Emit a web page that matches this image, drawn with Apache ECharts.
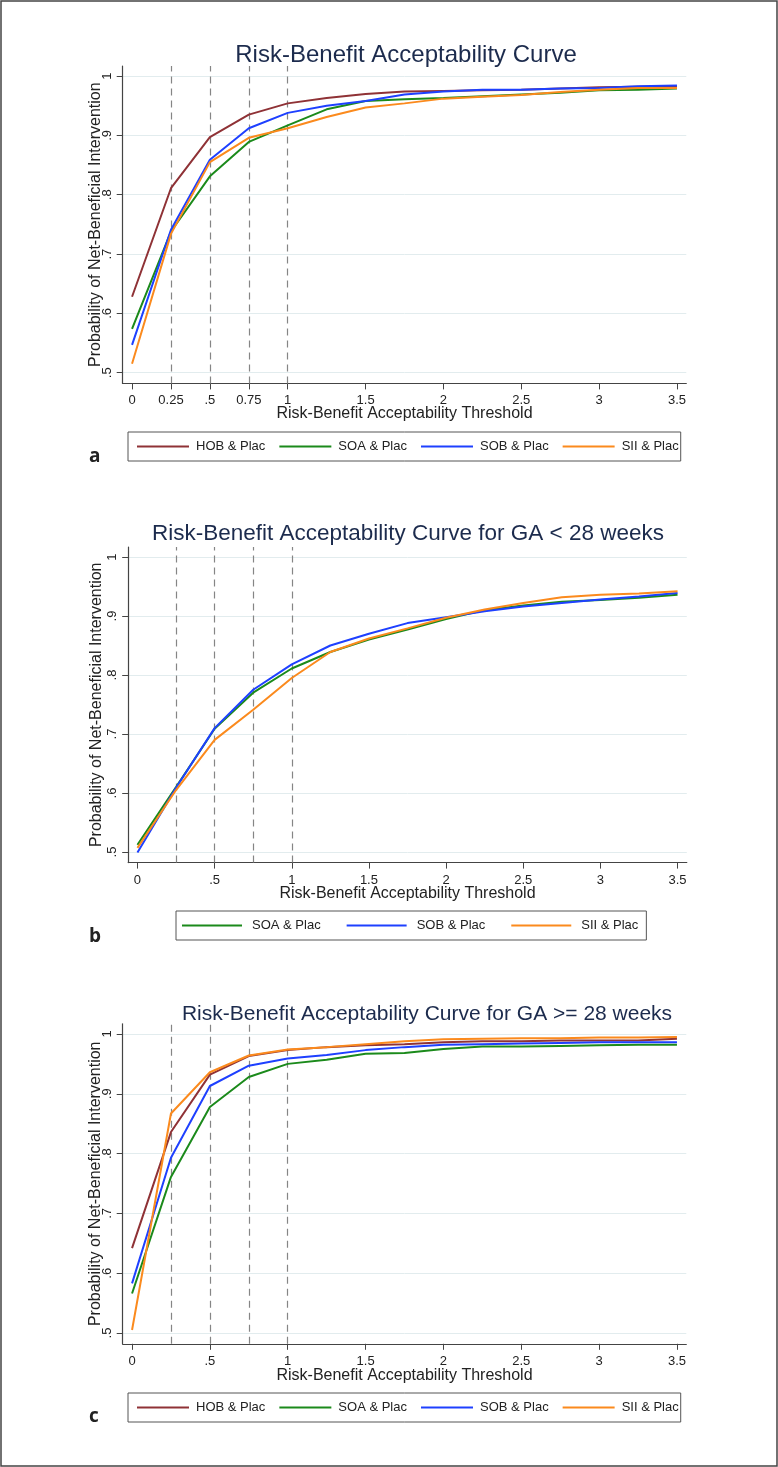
<!DOCTYPE html>
<html>
<head>
<meta charset="utf-8">
<script src="https://cdn.jsdelivr.net/npm/echarts@6/dist/echarts.min.js"></script>
<style>
html,body{margin:0;padding:0;background:#fff;}
#chart{width:778px;height:1467px;}
</style>
</head>
<body>
<div id="chart"></div>
<script>
// risk-benefit acceptability thresholds (x)
var thresholds = [0, 0.25, 0.5, 0.75, 1, 1.25, 1.5, 1.75, 2, 2.25, 2.5, 2.75, 3, 3.25, 3.5];

// panel a: all infants
var hobA = [0.628, 0.811, 0.897, 0.935, 0.954, 0.963, 0.970, 0.974, 0.975, 0.976, 0.977, 0.979, 0.981, 0.982, 0.983];
var soaA = [0.574, 0.738, 0.831, 0.889, 0.917, 0.944, 0.958, 0.961, 0.963, 0.966, 0.969, 0.972, 0.976, 0.977, 0.979];
var sobA = [0.547, 0.741, 0.859, 0.912, 0.938, 0.950, 0.958, 0.969, 0.974, 0.977, 0.977, 0.979, 0.980, 0.983, 0.984];
var siiA = [0.515, 0.734, 0.855, 0.896, 0.912, 0.931, 0.947, 0.954, 0.962, 0.965, 0.968, 0.973, 0.977, 0.980, 0.980];

// panel b: GA < 28 weeks
var soaB = [0.512, 0.610, 0.709, 0.770, 0.811, 0.839, 0.860, 0.877, 0.895, 0.910, 0.918, 0.924, 0.927, 0.931, 0.936];
var sobB = [0.499, 0.609, 0.710, 0.775, 0.818, 0.850, 0.870, 0.888, 0.898, 0.908, 0.916, 0.922, 0.928, 0.933, 0.939];
var siiB = [0.507, 0.605, 0.690, 0.741, 0.795, 0.839, 0.862, 0.879, 0.897, 0.911, 0.922, 0.932, 0.936, 0.938, 0.942];

// panel c: GA >= 28 weeks
var hobC = [0.642, 0.836, 0.932, 0.963, 0.973, 0.978, 0.981, 0.983, 0.986, 0.988, 0.988, 0.989, 0.989, 0.989, 0.992];
var soaC = [0.566, 0.761, 0.878, 0.928, 0.950, 0.957, 0.967, 0.968, 0.975, 0.979, 0.979, 0.980, 0.981, 0.982, 0.982];
var sobC = [0.583, 0.793, 0.913, 0.947, 0.959, 0.965, 0.973, 0.978, 0.982, 0.983, 0.984, 0.985, 0.986, 0.986, 0.986];
var siiC = [0.505, 0.867, 0.936, 0.964, 0.974, 0.978, 0.983, 0.988, 0.991, 0.992, 0.993, 0.993, 0.994, 0.994, 0.995];

// ticks
var xTicksA = [0, 0.25, 0.5, 0.75, 1, 1.5, 2, 2.5, 3, 3.5];
var xLabelsA = ['0', '0.25', '.5', '0.75', '1', '1.5', '2', '2.5', '3', '3.5'];
var xTicksBC = [0, 0.5, 1, 1.5, 2, 2.5, 3, 3.5];
var xLabelsBC = ['0', '.5', '1', '1.5', '2', '2.5', '3', '3.5'];
var yTicks = [0.5, 0.6, 0.7, 0.8, 0.9, 1];
var yLabels = ['.5', '.6', '.7', '.8', '.9', '1'];
var dashX = [0.25, 0.5, 0.75, 1];

var names = ['HOB & Plac', 'SOA & Plac', 'SOB & Plac', 'SII & Plac'];
var colors = {'HOB & Plac': '#8f3236', 'SOA & Plac': '#1b8a1b', 'SOB & Plac': '#1e40ff', 'SII & Plac': '#fb8a1d'};
var font = "'Liberation Sans', Arial, sans-serif";

function pairs(vals) {
	return thresholds.map(function (x, i) { return [x, vals[i]]; });
}
function lookup(ticks, labels) {
	return function (v) {
		for (var i = 0; i < ticks.length; i++) {
			if (Math.abs(ticks[i] - v) < 1e-6) return labels[i];
		}
		return '';
	};
}

function xAxisOf(idx, ticks, labels, gap) {
	return {
		type: 'value', gridIndex: idx, min: -0.06, max: 3.56,
		name: 'Risk-Benefit Acceptability Threshold', nameLocation: 'middle', nameGap: gap,
		nameMoveOverlap: false,
		nameTextStyle: {fontFamily: font, fontSize: 16, color: '#222'},
		axisLine: {onZero: false, lineStyle: {color: '#444', width: 1.2}},
		axisTick: {customValues: ticks, length: 6, lineStyle: {color: '#444'}},
		axisLabel: {customValues: ticks, formatter: lookup(ticks, labels), margin: 11,
			fontFamily: font, fontSize: 13, color: '#222'},
		splitLine: {show: false}
	};
}
function yAxisOf(idx, gap) {
	return {
		type: 'value', gridIndex: idx, min: 0.482, max: 1.017,
		name: 'Probability of Net-Beneficial Intervention', nameLocation: 'middle', nameGap: gap,
		nameMoveOverlap: false,
		nameTextStyle: {fontFamily: font, fontSize: 16, color: '#222'},
		axisLine: {show: true, onZero: false, lineStyle: {color: '#444', width: 1.2}},
		axisTick: {show: true, customValues: yTicks, length: 6, lineStyle: {color: '#444'}},
		axisLabel: {customValues: yTicks, formatter: lookup(yTicks, yLabels), rotate: 90, margin: 9,
			fontFamily: font, fontSize: 13, color: '#222'},
		splitLine: {show: true, lineStyle: {color: '#e2ecee', width: 1}}
	};
}

function seriesOf(idx, list) {
	return list.map(function (s, i) {
		var o = {
			type: 'line', name: s[0], xAxisIndex: idx, yAxisIndex: idx,
			data: pairs(s[1]), symbol: 'none', z: 3,
			color: colors[s[0]], lineStyle: {width: 2, color: colors[s[0]]}
		};
		if (i === 0) {
			o.markLine = {
				silent: true, z: 1, symbol: ['none', 'none'], label: {show: false},
				lineStyle: {color: '#858585', type: [7, 5], width: 1.2},
				data: dashX.map(function (v) { return {xAxis: v}; })
			};
		}
		return o;
	});
}

function legendOf(top, left, data, w, gap, pad, textPad) {
	return {
		top: top, left: left, data: data, icon: 'rect', itemWidth: w, itemHeight: 2, itemGap: gap,
		padding: pad, borderColor: '#555', borderWidth: 1, selectedMode: false,
		textStyle: {fontFamily: font, fontSize: 13, color: '#222', padding: [0, 0, 0, textPad]}
	};
}

var chart = echarts.init(document.getElementById('chart'));
chart.setOption({
	animation: false,
	backgroundColor: '#fff',
	title: [
		{text: 'Risk-Benefit Acceptability Curve', left: 401, top: 38, textAlign: 'center',
			textStyle: {fontFamily: font, fontSize: 24, fontWeight: 'normal', color: '#1c2b4d'}},
		{text: 'Risk-Benefit Acceptability Curve for GA < 28 weeks', left: 403, top: 517, textAlign: 'center',
			textStyle: {fontFamily: font, fontSize: 22.5, fontWeight: 'normal', color: '#1c2b4d'}},
		{text: 'Risk-Benefit Acceptability Curve for GA >= 28 weeks', left: 422, top: 999, textAlign: 'center',
			textStyle: {fontFamily: font, fontSize: 21, fontWeight: 'normal', color: '#1c2b4d'}},
		{text: 'a', left: 84, top: 442, textStyle: {fontFamily: "'Open Sans', sans-serif", fontSize: 19, fontWeight: 'bold', color: '#222'}},
		{text: 'b', left: 84, top: 922, textStyle: {fontFamily: "'Open Sans', sans-serif", fontSize: 19, fontWeight: 'bold', color: '#222'}},
		{text: 'c', left: 84, top: 1402, textStyle: {fontFamily: "'Open Sans', sans-serif", fontSize: 19, fontWeight: 'bold', color: '#222'}}
	],
	legend: [
		legendOf(432, 128, names, 52, 14, [8, 2, 8, 9], 2),
		legendOf(911, 176, names.slice(1), 60, 26, [8, 8, 8, 6], 5),
		legendOf(1393, 128, names, 52, 14, [8, 2, 8, 9], 2)
	],
	grid: [
		{left: 122.7, top: 66, width: 563.6, height: 317.4},
		{left: 128.2, top: 547, width: 558.6, height: 315.6},
		{left: 122.7, top: 1023.8, width: 563.6, height: 320}
	],
	xAxis: [xAxisOf(0, xTicksA, xLabelsA, 22), xAxisOf(1, xTicksBC, xLabelsBC, 23), xAxisOf(2, xTicksBC, xLabelsBC, 24)],
	yAxis: [yAxisOf(0, 19), yAxisOf(1, 24), yAxisOf(2, 19)],
	graphic: [{
		type: 'rect', silent: true, z: 100,
		shape: {x: 1, y: 1, width: 776, height: 1465},
		style: {fill: 'none', stroke: '#444', lineWidth: 1.5}
	}],
	series: [].concat(
		seriesOf(0, [[names[0], hobA], [names[1], soaA], [names[2], sobA], [names[3], siiA]]),
		seriesOf(1, [[names[1], soaB], [names[2], sobB], [names[3], siiB]]),
		seriesOf(2, [[names[0], hobC], [names[1], soaC], [names[2], sobC], [names[3], siiC]])
	)
});
</script>
</body>
</html>
